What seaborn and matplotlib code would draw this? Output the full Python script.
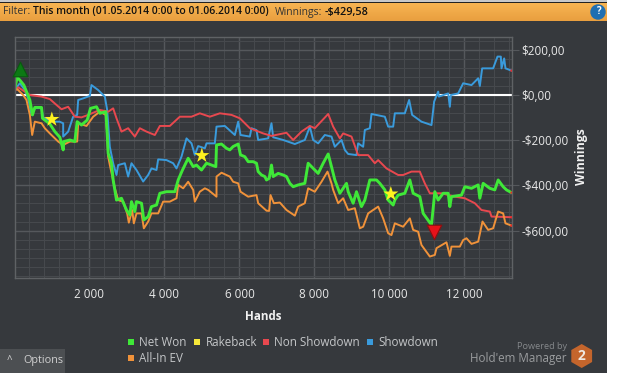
import seaborn as sns
import matplotlib
matplotlib.use('Agg')
import matplotlib.pyplot as plt
from matplotlib.patches import Rectangle, RegularPolygon, Circle
from matplotlib.ticker import FuncFormatter, MultipleLocator
import numpy as np

# values
net_h = [0,71,142,249,320,409,480,542,720,747,942,1076,1209,1298,1316,1476,1609,1671,1787,1938,2027,2187,2276,2436,2471,2498,2587,2631,2720,2853,2987,3076,3120,3209,3253,3387,3449,3565,3653,3787,3876,4053,4276,4365,4480,4631,4765,4853,4987,5120,5369,5387,5520,5653,5742,5831,5965,6027,6142,6231,6365,6453,6498,6587,6676,6720,6791,6853,6898,7031,7165,7253,7342,7431,7565,7742,7831,8009,8098,8231,8365,8453,8542,8676,8853,8898,9031,9120,9253,9342,9476,9653,9742,9876,9965,10098,10142,10231,10409,10542,10631,10809,10898,11120,11209,11298,11431,11565,11609,11653,11920,12009,12187,12365,12409,12498,12676,12809,12898,13031,13120,13253]
net_v = [22,78,66,44,15,-22,-88,-55,-55,-103,-128,-162,-187,-243,-206,-199,-206,-118,-133,-111,-59,-52,-81,-74,-170,-258,-302,-376,-465,-457,-509,-531,-472,-516,-472,-479,-553,-538,-494,-487,-435,-428,-428,-376,-332,-280,-317,-310,-332,-302,-317,-221,-217,-236,-243,-228,-217,-265,-273,-295,-295,-302,-339,-354,-361,-376,-369,-310,-361,-347,-354,-361,-391,-406,-398,-391,-302,-332,-347,-302,-261,-317,-376,-435,-391,-428,-479,-428,-494,-465,-376,-376,-391,-420,-465,-487,-465,-443,-435,-376,-435,-450,-524,-575,-428,-465,-435,-435,-494,-450,-443,-406,-413,-398,-457,-391,-413,-420,-376,-406,-420,-432]

ev_h = [0,98,231,320,409,471,542,720,809,942,1164,1298,1476,1671,1698,1920,2098,2276,2436,2471,2498,2542,2676,2764,2898,3004,3049,3138,3182,3253,3387,3449,3565,3653,3831,3964,4142,4320,4365,4498,4631,4765,4809,4942,5076,5165,5387,5387,5520,5742,5831,5965,6027,6231,6453,6498,6720,6791,6827,6916,7076,7253,7476,7565,7742,7831,8009,8187,8347,8453,8498,8631,8764,8898,9076,9209,9298,9431,9564,9698,9831,9965,10053,10142,10364,10542,10631,10764,10853,11076,11209,11253,11520,11609,11653,11876,11965,12053,12187,12365,12480,12631,12764,12898,13031,13093,13253]
ev_v = [30,22,0,-22,-88,-177,-118,-125,-147,-170,-206,-221,-206,-206,-125,-137,-96,-74,-88,-170,-273,-310,-413,-465,-472,-524,-565,-509,-568,-524,-524,-590,-560,-524,-524,-472,-472,-457,-398,-413,-384,-420,-472,-428,-413,-420,-450,-361,-344,-361,-384,-391,-428,-450,-443,-479,-512,-513,-443,-479,-476,-509,-534,-494,-479,-413,-428,-384,-339,-391,-420,-479,-457,-509,-501,-590,-583,-524,-509,-494,-546,-612,-620,-568,-583,-546,-597,-605,-664,-715,-708,-678,-652,-712,-671,-671,-642,-634,-659,-649,-560,-597,-590,-516,-524,-568,-578]

nonsd_h = [0,98,276,409,720,942,1120,1253,1431,1609,1787,1964,2276,2498,2631,2720,2853,3031,3209,3342,3520,3742,3876,4142,4409,4720,4942,5209,5476,5787,6009,6276,6631,6853,7253,7431,7653,7876,8009,8365,8498,8676,8764,8987,9164,9431,9609,9698,9920,10231,10364,10587,10809,10942,11076,11387,11742,12009,12276,12453,12676,12720,13253]
nonsd_v = [15,34,15,0,-7,-18,-44,-63,-52,-96,-99,-88,-66,-74,-59,-103,-162,-147,-184,-147,-162,-177,-137,-137,-96,-96,-81,-96,-81,-88,-103,-147,-170,-181,-167,-199,-162,-137,-147,-84,-140,-192,-170,-184,-266,-266,-302,-288,-325,-354,-354,-339,-339,-391,-435,-435,-450,-457,-479,-509,-516,-538,-541]

sd_h = [0,142,276,364,453,542,720,760,1031,1200,1298,1298,1431,1564,1671,1698,1831,2009,2053,2231,2409,2471,2542,2631,2720,2764,2942,3031,3120,3253,3431,3564,3653,3787,3831,4053,4231,4320,4453,4587,4720,4809,4898,5076,5120,5342,5387,5609,5876,5965,6027,6276,6320,6453,6498,6764,6853,6898,7165,7476,7742,7876,7964,8098,8276,8453,8542,8720,8809,8898,9120,9164,9298,9342,9476,9520,9876,9965,10098,10142,10409,10524,10604,10853,11120,11191,11298,11316,11565,11609,11636,11831,11965,12187,12365,12409,12471,12764,12880,12969,12987,13058,13093,13253]
sd_v = [22,52,22,-15,-88,-58,-58,-100,-118,-118,-125,-184,-162,-96,-88,-22,-15,-4,44,22,-7,-66,-229,-302,-354,-310,-302,-361,-302,-332,-383,-354,-325,-332,-285,-288,-302,-325,-273,-192,-214,-265,-226,-236,-214,-214,-140,-137,-177,-118,-177,-184,-147,-155,-199,-192,-125,-187,-199,-217,-199,-140,-199,-214,-177,-184,-229,-199,-243,-261,-266,-214,-229,-155,-147,-84,-96,-140,-140,-81,-81,-22,-88,-118,-133,-29,15,-7,7,-52,0,7,52,44,74,40,118,118,170,170,118,162,118,108]

star_h = [996,4996,10036]
star_v = [-108,-268,-438]
best_h, best_v = [160], [115]
worst_h, worst_v = [11176], [-605]

x_ticks = [2000,4000,6000,8000,10000,12000]
y_ticks = [-600,-400,-200,0,200]

legend_names = ['Net Won','Rakeback','Non Showdown','Showdown','All-In EV']
green, yellow, red, blue, orange = '#3fe838', '#f6e83a', '#e8484f', '#3a9bdc', '#f0923a'
legend_cols = [green, yellow, red, blue, orange]
legend_x = [130.7, 197, 266, 370, 130.7]
legend_y = [342, 342, 342, 342, 358]

bg = '#36393d'
sns.set_style('dark')
plt.rcParams['font.family'] = ['Open Sans', 'DejaVu Sans']

fig = plt.figure(figsize=(6.3, 3.73), dpi=100, facecolor=bg)

# window chrome, in pixels
ch = fig.add_axes([0, 0, 1, 1], zorder=0)
ch.set_xlim(0, 630)
ch.set_ylim(373, 0)
ch.axis('off')
ch.add_patch(Rectangle((607, 0), 23, 373, color='white', lw=0))
ch.add_patch(Rectangle((0, 0), 607, 1.5, color='#c8c8c8', lw=0))
ch.add_patch(Rectangle((0, 1.5), 607, 1.5, color='#222222', lw=0))
ch.imshow(np.linspace(0, 1, 20).reshape(-1, 1), extent=(0, 607, 21, 3), aspect='auto', zorder=1,
          cmap=matplotlib.colors.LinearSegmentedColormap.from_list('o', ['#f7b452', '#e99f3f']))
ch.set_xlim(0, 630)
ch.set_ylim(373, 0)
ch.text(3, 12, 'Filter:', fontsize=7.5, color='#333333', va='center', zorder=3)
ch.text(33, 12, 'This month (01.05.2014 0:00 to 01.06.2014 0:00)', fontsize=7.45, color='#111111', weight='semibold', va='center', zorder=3)
ch.text(275, 12, 'Winnings:', fontsize=7.5, color='#333333', va='center', zorder=3)
ch.text(325, 12, '-$429,58', fontsize=7.8, color='#111111', weight='semibold', va='center', zorder=3)
ch.add_patch(Circle((598, 12), 7, color='#1f6fb2', zorder=3))
ch.text(598, 12, '?', fontsize=7, color='white', weight='bold', ha='center', va='center', zorder=4)

ch.add_patch(Rectangle((0, 349), 65, 24, color='#4c4f52', lw=0))
ch.text(9, 361, '^', fontsize=7, color='#d8d8d8', ha='center', va='center')
ch.text(23, 361, 'Options', fontsize=7.8, color='#d0d0d0', va='center')

for name, col, lx, ly in zip(legend_names, legend_cols, legend_x, legend_y):
    ch.add_patch(Rectangle((lx - 3, ly - 3), 6, 6, color=col, lw=0))
    ch.text(lx + 8.5, ly, name, fontsize=8.4, color='#c4c6c8', va='center')

ch.text(566.7, 346.5, 'Powered by', fontsize=6.6, color='#85888b', ha='right', va='center')
ch.text(566.7, 358.5, "Hold'em Manager", fontsize=8.4, color='#9a9c9e', ha='right', va='center')
ch.add_patch(RegularPolygon((581.7, 356), 6, radius=12, color='#c4652c', lw=0))
ch.text(581.7, 355.5, '2', fontsize=10, color='#f0e8e0', weight='bold', ha='center', va='center')

# chart
ax = fig.add_axes([14.5/630, 1 - 278/373, (511.7 - 14.5)/630, (278 - 36.5)/373], zorder=2)
ax.set_facecolor('none')

ax.axhline(0, color='white', lw=1.5, zorder=1.5)
sns.lineplot(x=sd_h, y=sd_v, color=blue, lw=1.4, estimator=None, sort=False, ax=ax, zorder=2)
sns.lineplot(x=nonsd_h, y=nonsd_v, color=red, lw=1.4, estimator=None, sort=False, ax=ax, zorder=2.1)
sns.lineplot(x=ev_h, y=ev_v, color=orange, lw=1.4, estimator=None, sort=False, ax=ax, zorder=2.2)
sns.lineplot(x=net_h, y=net_v, color=green, lw=2.1, estimator=None, sort=False, ax=ax, zorder=2.3)

# small red end dots on each line
end_v = [net_v[-1], ev_v[-1], nonsd_v[-1], sd_v[-1]]
sns.scatterplot(x=[13253] * 4, y=end_v, s=3, color='#ff2020', edgecolor='none', ax=ax, zorder=2.4)

sns.scatterplot(x=star_h, y=star_v, marker='*', s=130, color='#fff21f', edgecolor='none', ax=ax, zorder=3, clip_on=False)
sns.scatterplot(x=best_h, y=best_v, marker='^', s=110, color='#0c7a14', edgecolor='#0a5a10', ax=ax, zorder=3, clip_on=False)
sns.scatterplot(x=worst_h, y=worst_v, marker='v', s=110, color='#e8111a', edgecolor='#8a1010', ax=ax, zorder=3)

ax.set_xlim(0, 13259)
ax.set_ylim(-810, 259)
ax.yaxis.tick_right()
ax.yaxis.set_label_position('right')
ax.set_xticks(x_ticks)
ax.set_yticks(y_ticks)
ax.xaxis.set_minor_locator(MultipleLocator(400))
ax.yaxis.set_minor_locator(MultipleLocator(40))
ax.xaxis.set_major_formatter(FuncFormatter(lambda v, p: f'{int(v):,}'.replace(',', ' ')))
ax.yaxis.set_major_formatter(FuncFormatter(lambda v, p: ('-' if v < 0 else '') + f'${abs(int(v))},00'))
ax.grid(which='major', color='#55585c', lw=1)
ax.grid(which='minor', color='#46494d', lw=0.8)
ax.set_axisbelow(True)
ax.tick_params(axis='x', which='major', length=3.5, width=0.8, color='#55585c', labelcolor='#e8e8e8', labelsize=8.4, pad=3.5)
ax.tick_params(axis='x', which='minor', length=3.5, width=0.8, color='#55585c')
ax.tick_params(axis='y', which='major', length=5, width=0.8, color='#55585c', labelcolor='#e8e8e8', labelsize=8.4, pad=2)
ax.tick_params(axis='y', which='minor', length=0)
for s in ax.spines.values():
    s.set_color('#5f6265')
    s.set_linewidth(1)
    s.set_visible(True)

ch.text(263, 317, 'Hands', fontsize=8.4, color='#f0f0f0', weight='bold', ha='center', va='center')
ch.text(582, 157, 'Winnings', fontsize=8.8, color='#f0f0f0', weight='bold', rotation=90, ha='center', va='center')

fig.savefig('out.png', dpi=100, facecolor=bg)
